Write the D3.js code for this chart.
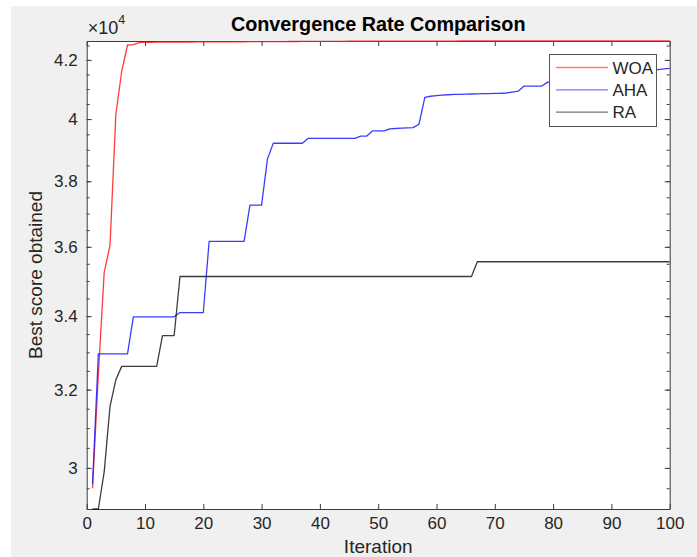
<!DOCTYPE html>
<html>
<head>
<meta charset="utf-8">
<script src="https://cdn.jsdelivr.net/npm/d3@7"></script>
<style>
  html, body { margin: 0; padding: 0; background: #ffffff; }
  svg { display: block; }
  text { font-family: "Liberation Sans", Arial, Helvetica, sans-serif; }
</style>
</head>
<body>
<svg id="chart" width="697" height="557"></svg>
<script>
// ---------------- DATA ----------------
const iterations = d3.range(1, 101); // 1..100 iteration indices

const woaValues = [
  29500, 32400, 35250, 36050, 40150, 41600, 42520, 42530, 42600, 42612,
  42615, 42618, 42620, 42621, 42622, 42623, 42624, 42625, 42626, 42627,
  42628, 42629, 42630, 42631, 42632, 42633, 42634, 42635, 42636, 42637,
  42638, 42639, 42640, 42641, 42642, 42643, 42644, 42645, 42646, 42647,
  42648, 42649, 42650, 42650, 42651, 42651, 42652, 42652, 42653, 42653,
  42654, 42654, 42655, 42655, 42656, 42656, 42657, 42657, 42658, 42658,
  42659, 42659, 42659, 42660, 42660, 42660, 42660, 42660, 42660, 42660,
  42660, 42660, 42660, 42660, 42660, 42660, 42660, 42660, 42660, 42660,
  42660, 42660, 42660, 42660, 42660, 42660, 42660, 42660, 42660, 42660,
  42660, 42660, 42660, 42660, 42660, 42660, 42660, 42660, 42660, 42660
];

const ahaValues = [
  29600, 32960, 32960, 32960, 32960, 32960, 32960, 33980, 33980, 33980,
  33980, 33980, 33980, 33980, 33980, 34100, 34100, 34100, 34100, 34100,
  36160, 36160, 36160, 36160, 36160, 36160, 36160, 37260, 37260, 37260,
  38700, 39210, 39210, 39210, 39210, 39210, 39210, 39370, 39370, 39370,
  39370, 39370, 39370, 39370, 39370, 39370, 39440, 39440, 39610, 39610,
  39610, 39680, 39690, 39700, 39710, 39720, 39830, 40720, 40760, 40780,
  40800, 40810, 40820, 40825, 40830, 40835, 40840, 40845, 40850, 40855,
  40860, 40870, 40900, 40930, 41100, 41100, 41100, 41100, 41230, 41250,
  41280, 41300, 41320, 41350, 41380, 41400, 41420, 41450, 41470, 41500,
  41520, 41540, 41560, 41580, 41600, 41620, 41640, 41665, 41690, 41710
];

const raValues = [
  29000, 29000, 29900, 31560, 32260, 32620, 32620, 32620, 32620, 32620,
  32620, 32620, 33460, 33460, 33460, 35130, 35130, 35130, 35130, 35130,
  35130, 35130, 35130, 35130, 35130, 35130, 35130, 35130, 35130, 35130,
  35130, 35130, 35130, 35130, 35130, 35130, 35130, 35130, 35130, 35130,
  35130, 35130, 35130, 35130, 35130, 35130, 35130, 35130, 35130, 35130,
  35130, 35130, 35130, 35130, 35130, 35130, 35130, 35130, 35130, 35130,
  35130, 35130, 35130, 35130, 35130, 35130, 35560, 35560, 35560, 35560,
  35560, 35560, 35560, 35560, 35560, 35560, 35560, 35560, 35560, 35560,
  35560, 35560, 35560, 35560, 35560, 35560, 35560, 35560, 35560, 35560,
  35560, 35560, 35560, 35560, 35560, 35560, 35560, 35560, 35560, 35560
];

const seriesNames = ["WOA", "AHA", "RA"];
const seriesColors = ["#ff1a1a", "#1a1aff", "#1a1a1a"];

const xTickValues = [0, 10, 20, 30, 40, 50, 60, 70, 80, 90, 100];
const yTickValues = [30000, 32000, 34000, 36000, 38000, 40000, 42000];
const yTickLabels = ["3", "3.2", "3.4", "3.6", "3.8", "4", "4.2"];
const yMinorTickValues = d3.range(29000, 42660, 500);

const titleText = "Convergence Rate Comparison";
const xLabelText = "Iteration";
const yLabelText = "Best score obtained";

// ---------------- LAYOUT ----------------
const W = 697, H = 557;
const plot = { left: 86.7, right: 669.7, top: 41, bottom: 509 };
const pw = plot.right - plot.left, ph = plot.bottom - plot.top;

const svg = d3.select("#chart");

// backgrounds
svg.append("rect").attr("x", 0).attr("y", 0).attr("width", W).attr("height", H).attr("fill", "#ffffff");
svg.append("rect").attr("x", 11).attr("y", 6).attr("width", W - 11).attr("height", H - 6).attr("fill", "#f0f0f0");

const g = svg.append("g").attr("transform", `translate(${plot.left},${plot.top})`);
g.append("rect").attr("width", pw).attr("height", ph).attr("fill", "#ffffff");

const x = d3.scaleLinear().domain([0, 100]).range([0, pw]);
const y = d3.scaleLog().domain([29000, 42660]).range([ph, 0]);

// clip (slightly larger than plot so edge-hugging lines stay visible)
svg.append("defs").append("clipPath").attr("id", "clip")
  .append("rect").attr("x", -1).attr("y", -1.5).attr("width", pw + 2).attr("height", ph + 3);

// axes
const axisColor = "#3c3c3c";
const textColor = "#262626";
function styleAxis(sel, showText) {
  sel.select(".domain").attr("stroke", axisColor).attr("stroke-width", 1);
  sel.selectAll(".tick line").attr("stroke", axisColor).attr("stroke-width", 1);
  sel.selectAll(".tick text")
    .attr("fill", textColor)
    .style("font-size", "17px")
    .style("font-family", '"Liberation Sans", Arial, sans-serif');
  if (!showText) sel.selectAll(".tick text").remove();
}

// minor y ticks (left & right)
g.append("g")
  .call(d3.axisLeft(y).tickValues(yMinorTickValues).tickSize(-3).tickFormat(""))
  .call(s => { s.select(".domain").remove(); s.selectAll(".tick line").attr("stroke", axisColor); });
g.append("g").attr("transform", `translate(${pw},0)`)
  .call(d3.axisRight(y).tickValues(yMinorTickValues).tickSize(-3).tickFormat(""))
  .call(s => { s.select(".domain").remove(); s.selectAll(".tick line").attr("stroke", axisColor); });

// bottom x axis
g.append("g").attr("transform", `translate(0,${ph})`)
  .call(d3.axisBottom(x).tickValues(xTickValues).tickSizeInner(-5).tickSizeOuter(0).tickPadding(8))
  .call(s => styleAxis(s, true));
// top x axis
g.append("g")
  .call(d3.axisTop(x).tickValues(xTickValues).tickSizeInner(-5).tickSizeOuter(0).tickFormat(""))
  .call(s => styleAxis(s, false));
// left y axis
g.append("g")
  .call(d3.axisLeft(y).tickValues(yTickValues).tickSizeInner(-5).tickSizeOuter(0).tickPadding(9)
    .tickFormat((d, i) => yTickLabels[i]))
  .call(s => styleAxis(s, true));
// right y axis
g.append("g").attr("transform", `translate(${pw},0)`)
  .call(d3.axisRight(y).tickValues(yTickValues).tickSizeInner(-5).tickSizeOuter(0).tickFormat(""))
  .call(s => styleAxis(s, false));

// lines (drawn over the axes, like the reference)
const series = [woaValues, ahaValues, raValues];
const line = d3.line().x((d, i) => x(iterations[i])).y(d => y(d));
const lines = g.append("g").attr("clip-path", "url(#clip)");
series.forEach((vals, k) => {
  lines.append("path")
    .datum(vals)
    .attr("fill", "none")
    .attr("stroke", seriesColors[k])
    .attr("stroke-width", 1.3)
    .attr("stroke-opacity", 0.85)
    .attr("stroke-linejoin", "round")
    .attr("d", line);
});

// exponent label
const expo = svg.append("text").attr("x", plot.left + 1).attr("y", 34)
  .attr("fill", textColor).style("font-size", "18px");
expo.append("tspan").text("\u00d710");
expo.append("tspan").attr("dy", -10).style("font-size", "12.5px").text("4");

// title
svg.append("text").attr("x", (plot.left + plot.right) / 2).attr("y", 31)
  .attr("text-anchor", "middle").attr("fill", "#000")
  .style("font-size", "19.8px").style("font-weight", "bold").text(titleText);

// x label
svg.append("text").attr("x", (plot.left + plot.right) / 2).attr("y", 553)
  .attr("text-anchor", "middle").attr("fill", textColor)
  .style("font-size", "19px").text(xLabelText);

// y label
svg.append("text").attr("transform", `translate(42,${(plot.top + plot.bottom) / 2}) rotate(-90)`)
  .attr("text-anchor", "middle").attr("fill", textColor)
  .style("font-size", "19px").text(yLabelText);

// legend
const leg = svg.append("g").attr("transform", "translate(549.5,54.5)");
leg.append("rect").attr("width", 107).attr("height", 72)
  .attr("fill", "#ffffff").attr("stroke", "#555555").attr("stroke-width", 1);
seriesNames.forEach((name, k) => {
  const ly = 13 + k * 22.3;
  leg.append("line").attr("x1", 6.5).attr("x2", 58.5).attr("y1", ly).attr("y2", ly)
    .attr("stroke", seriesColors[k]).attr("stroke-width", 1.3).attr("stroke-opacity", 0.6);
  leg.append("text").attr("x", 63).attr("y", ly + 6).attr("fill", textColor)
    .style("font-size", "17px").text(name);
});
</script>
</body>
</html>
